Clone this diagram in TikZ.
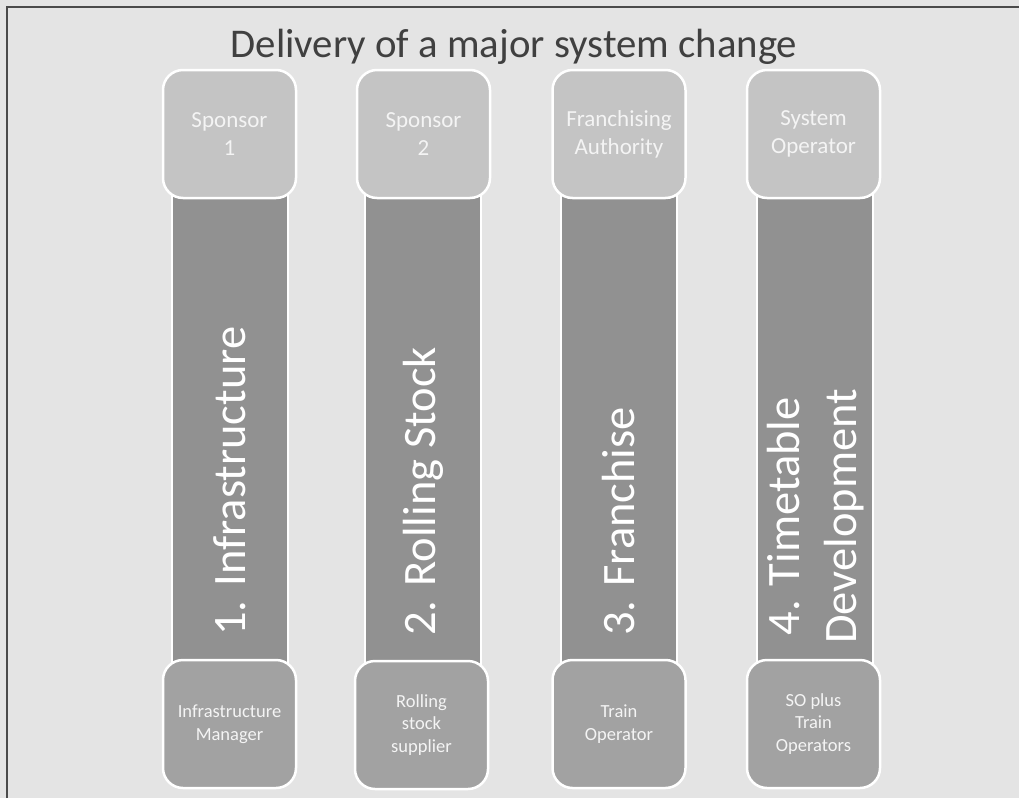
\documentclass[tikz,border=0pt]{standalone}
\usepackage{fontspec}
\setmainfont{Carlito}
\definecolor{bgc}{HTML}{E4E4E4}
\definecolor{barc}{HTML}{919191}
\definecolor{topc}{HTML}{C4C4C4}
\definecolor{botc}{HTML}{A2A2A2}
\definecolor{framec}{HTML}{4A4A4A}
\definecolor{titlec}{HTML}{404040}
\definecolor{txtc}{HTML}{F4F4F4}
\tikzset{
  barbox/.style={rectangle, fill=barc, draw=white, line width=2pt, minimum width=116pt, minimum height=480pt, inner sep=0pt},
  topbox/.style={rectangle, rounded corners=20pt, fill=topc, draw=white, line width=2.5pt, minimum width=133pt, minimum height=128pt, inner sep=0pt, align=center, text=txtc, font=\fontsize{23}{28}\selectfont},
  botbox/.style={rectangle, rounded corners=20pt, fill=botc, draw=white, line width=2.5pt, minimum width=133pt, minimum height=128pt, inner sep=0pt, align=center, text=txtc, font=\fontsize{18.5}{22.5}\selectfont},
  barlabel/.style={rotate=90, anchor=west, inner sep=0pt, align=center, text=white, font=\fontsize{46.5}{57}\selectfont},
  titlestyle/.style={anchor=base, inner sep=0pt, text=titlec, font=\fontsize{40.8}{48}\selectfont}
}
\begin{document}
\begin{tikzpicture}[x=1pt,y=-1pt]
\useasboundingbox (0,0) rectangle (1019,798);
\fill[bgc] (0,0) rectangle (1019,798);
\draw[framec, line width=2.5pt] (7,798) -- (7,7) -- (1019,7);
\node[titlestyle] (title) at (514,57) {Delivery of a major system change};
% bars
\node[barbox] (bar1) at (229.5,430) {};
\node[barbox] (bar2) at (423,430) {};
\node[barbox] (bar3) at (619,430) {};
\node[barbox] (bar4) at (814.5,430) {};
% bar labels
\node[barlabel] (lab1) at (229.5,636) {1. Infrastructure};
\node[barlabel] (lab2) at (423,636) {2. Rolling Stock};
\node[barlabel] (lab3) at (619,636) {3. Franchise};
\node[barlabel] (lab4) at (816,644) {4. Timetable\\Development};
% top boxes
\node[topbox] (top1) at (229.5,134) {Sponsor\\1};
\node[topbox] (top2) at (423.5,134) {Sponsor\\2};
\node[topbox] (top3) at (619,134) {Franchising\\Authority};
\node[topbox] (top4) at (813.5,134) {System\\Operator};
% bottom boxes
\node[botbox] (bot1) at (229.5,724) {Infrastructure\\Manager};
\node[botbox] (bot2) at (421.5,725) {Rolling\\stock\\supplier};
\node[botbox] (bot3) at (619,724) {Train\\Operator};
\node[botbox] (bot4) at (813.5,724) {SO plus\\Train\\Operators};
\end{tikzpicture}
\end{document}
